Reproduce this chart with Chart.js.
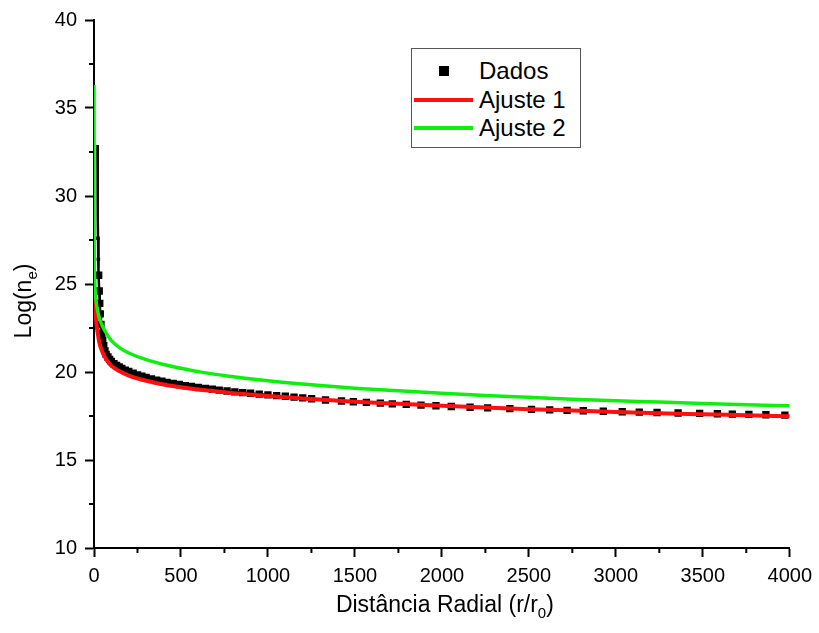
<!DOCTYPE html>
<html>
<head>
<meta charset="utf-8">
<script src="https://cdn.jsdelivr.net/npm/chart.js@4.4.1/dist/chart.umd.min.js"></script>
<style>
  html, body { margin: 0; padding: 0; background: #fff; }
  #wrap { position: relative; width: 819px; height: 633px; }
  #legend { position: absolute; left: 411px; top: 48px; width: 168px; height: 98px;
            border: 1px solid #555; background: #fff; box-sizing: content-box; }
  .row { position: absolute; left: 0; height: 28px; width: 168px; }
  .row span { position: absolute; left: 67px; top: 0; line-height: 28px; color: #000; white-space: nowrap;
              font-family: "Liberation Sans", Arial, sans-serif; font-size: 24px; }
  .sw { position: absolute; }
</style>
</head>
<body>
<div id="wrap">
  <canvas id="c" width="819" height="633"></canvas>
  <div id="legend"></div>
</div>
<script>
// ---- data ----
const dadosX = [20,21,22,23,25,27,30,33,36,40,45,50,56,63,70,80,90,100,115,130,145,160,180,200,225,250,275,300,330,360,390,420,455,490,525,560,600,640,680,720,765,810,855,900,950,1000,1050,1100,1150,1200,1251,1331,1423,1491,1566,1646,1715,1795,1880,1966,2054,2162,2263,2391,2515,2620,2720,2813,2928,3037,3135,3237,3358,3482,3584,3670,3765,3863,3972];
const dadosY = [32.9,30.5,28.8,27.6,26.4,25.5,24.6,23.9,23.3,22.7,22.2,21.8,21.5,21.2,21.0,20.85,20.72,20.6,20.48,20.38,20.29,20.21,20.11,20.03,19.93,19.84,19.76,19.69,19.61,19.54,19.48,19.41,19.35,19.29,19.23,19.18,19.12,19.07,19.02,18.97,18.92,18.87,18.83,18.79,18.74,18.7,18.66,18.62,18.57,18.53,18.48,18.41,18.35,18.31,18.27,18.23,18.19,18.16,18.12,18.08,18.04,18.0,17.96,17.92,17.88,17.85,17.82,17.8,17.77,17.74,17.72,17.7,17.67,17.65,17.63,17.61,17.59,17.57,17.55];

const ajuste1X = [3,5,8,12,16,20,25,30,40,50,60,75,100,150,200,300,400,500,600,800,1000,1250,1500,1750,2000,2250,2500,2750,3000,3250,3500,3750,4000];
const ajuste1Y = [24.3,24.0,23.5,23.0,22.6,22.3,22.0,21.7,21.35,21.1,20.9,20.65,20.35,20.03,19.8,19.5,19.29,19.13,19.0,18.8,18.63,18.46,18.31,18.19,18.08,17.98,17.89,17.81,17.73,17.66,17.6,17.54,17.49];

const ajuste2X = [0,0.5,1,2,4,6,10,15,20,25,35,50,75,100,150,200,300,400,500,600,800,1000,1250,1500,1750,2000,2250,2500,2750,3000,3250,3500,3750,4000];
const ajuste2Y = [36.3,30.0,27.5,26.0,25.2,24.75,24.22,23.8,23.51,23.28,22.94,22.57,22.14,21.78,21.36,21.08,20.7,20.43,20.21,20.02,19.73,19.5,19.27,19.08,18.93,18.79,18.67,18.56,18.45,18.37,18.29,18.21,18.14,18.08];

const seriesNames = ['Dados', 'Ajuste 1', 'Ajuste 2'];
const xMajor = [0,500,1000,1500,2000,2500,3000,3500,4000];
const xMinor = [250,750,1250,1750,2250,2750,3250,3750];
const yMajor = [10,15,20,25,30,35,40];
const yMinor = [12.5,17.5,22.5,27.5,32.5,37.5];
const xTitleParts = ['Distância Radial (r/r', '0', ')'];
const yTitleParts = ['Log(n', 'e', ')'];

const FAMILY = '"Liberation Sans", Arial, sans-serif';
const FS = 20;
const TFS = 23;

const pts = (xs, ys) => xs.map((x, i) => ({ x: x, y: ys[i] }));
const RED = '#ff1010', GREEN = '#10ee10';

// minor ticks, drawn through the chart's own scales
const minorTicks = {
  id: 'minorTicks',
  afterDraw(chart) {
    const ctx = chart.ctx, xs = chart.scales.x, ys = chart.scales.y;
    ctx.save();
    ctx.strokeStyle = '#000'; ctx.lineWidth = 2;
    xMinor.forEach(v => { const p = xs.getPixelForValue(v); ctx.beginPath(); ctx.moveTo(p, xs.top); ctx.lineTo(p, xs.top + 5); ctx.stroke(); });
    yMinor.forEach(v => { const p = ys.getPixelForValue(v); ctx.beginPath(); ctx.moveTo(ys.right, p); ctx.lineTo(ys.right - 5, p); ctx.stroke(); });
    ctx.restore();
  }
};

// axis titles with true subscripts
function drawParts(ctx, parts, x, y) {
  const main = TFS + 'px ' + FAMILY, sub = Math.round(TFS * 0.65) + 'px ' + FAMILY;
  ctx.font = main; const w0 = ctx.measureText(parts[0]).width, w2 = ctx.measureText(parts[2]).width;
  ctx.font = sub; const w1 = ctx.measureText(parts[1]).width;
  let cx = x - (w0 + w1 + w2) / 2;
  ctx.textAlign = 'left'; ctx.textBaseline = 'alphabetic'; ctx.fillStyle = '#000';
  ctx.font = main; ctx.fillText(parts[0], cx, y); cx += w0;
  ctx.font = sub; ctx.fillText(parts[1], cx, y + 6); cx += w1;
  ctx.font = main; ctx.fillText(parts[2], cx, y);
}
const axisTitles = {
  id: 'axisTitles',
  afterDraw(chart) {
    const ctx = chart.ctx, xs = chart.scales.x;
    ctx.save();
    drawParts(ctx, xTitleParts, (xs.left + xs.right) / 2 + 3, 612);
    ctx.translate(31, 301); ctx.rotate(-Math.PI / 2);
    drawParts(ctx, yTitleParts, 0, 0);
    ctx.restore();
  }
};

const chart = new Chart(document.getElementById('c'), {
  type: 'scatter',
  data: {
    datasets: [
      {
        label: seriesNames[0], data: pts(dadosX, dadosY), order: 3,
        showLine: true, borderColor: '#000', backgroundColor: '#000', borderWidth: 2.5,
        pointStyle: 'rect',
        pointRadius: c => { const v = c.raw ? c.raw.y : 0; return v > 28 ? 0 : (v > 26 ? 2.5 : 5.2); },
        pointBorderWidth: 0,
        segment: { borderColor: c => c.p0.parsed.x < 1000 ? '#000' : 'rgba(0,0,0,0)' }
      },
      {
        label: seriesNames[1], data: pts(ajuste1X, ajuste1Y), order: 2,
        showLine: true, borderColor: RED, backgroundColor: RED, borderWidth: 4,
        pointRadius: 0, cubicInterpolationMode: 'monotone'
      },
      {
        label: seriesNames[2], data: pts(ajuste2X, ajuste2Y), order: 1,
        showLine: true, borderColor: GREEN, backgroundColor: GREEN, borderWidth: 3.5,
        pointRadius: 0, cubicInterpolationMode: 'monotone'
      }
    ]
  },
  options: {
    responsive: false, animation: false, devicePixelRatio: 1,
    layout: { padding: { left: 0, right: 25, top: 20, bottom: 0 } },
    plugins: { legend: { display: false }, tooltip: { enabled: false } },
    scales: {
      x: {
        type: 'linear', min: 0, max: 4000,
        afterBuildTicks: s => { s.ticks = xMajor.map(v => ({ value: v })); },
        afterFit: s => { s.height = 85; },
        border: { color: '#000', width: 2 },
        grid: { drawOnChartArea: false, drawTicks: true, tickLength: 9, tickWidth: 2, tickColor: '#000' },
        ticks: { color: '#000', padding: 7, maxRotation: 0, font: { family: FAMILY, size: FS },
                 callback: v => String(v) },
        title: { display: false }
      },
      y: {
        type: 'linear', min: 10, max: 40,
        afterBuildTicks: s => { s.ticks = yMajor.map(v => ({ value: v })); },
        afterFit: s => { s.width = 94; },
        border: { color: '#000', width: 2 },
        grid: { drawOnChartArea: false, drawTicks: true, tickLength: 9, tickWidth: 2, tickColor: '#000' },
        ticks: { color: '#000', padding: 8, font: { family: FAMILY, size: FS }, callback: v => String(v) },
        title: { display: false }
      }
    }
  },
  plugins: [minorTicks, axisTitles]
});

// ---- HTML legend built from the dataset labels ----
const lg = document.getElementById('legend');
chart.data.datasets.forEach((ds, i) => {
  const row = document.createElement('div');
  row.className = 'row';
  row.style.top = (8 + i * 28.5) + 'px';
  const sw = document.createElement('div');
  sw.className = 'sw';
  if (i === 0) { sw.style.cssText = 'left:27px;top:9px;width:10px;height:10px;background:#000;'; }
  else { sw.style.cssText = 'left:2px;top:12px;width:59px;height:4px;background:' + ds.borderColor + ';'; }
  const tx = document.createElement('span');
  tx.textContent = ds.label;
  row.appendChild(sw); row.appendChild(tx); lg.appendChild(row);
});
</script>
</body>
</html>
